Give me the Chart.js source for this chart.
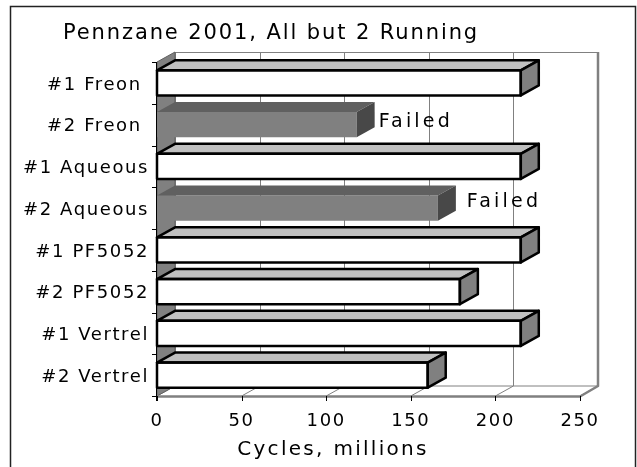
<!DOCTYPE html>
<html>
<head>
<meta charset="utf-8">
<script src="https://cdn.jsdelivr.net/npm/chart.js@4.4.1/dist/chart.umd.min.js"></script>
<style>
  html, body { margin: 0; padding: 0; background: #fff; }
  #wrap { width: 637px; height: 467px; }
</style>
</head>
<body>
<div id="wrap"><canvas id="chart" width="637" height="467"></canvas></div>
<script>
// ── DATA ─────────────────────────────────────────────────────────────────────
const categories = ['#1 Freon ', '#2 Freon ', '#1 Aqueous', '#2 Aqueous',
                    '#1 PF5052', '#2 PF5052', '#1 Vertrel', '#2 Vertrel'];
const cycles     = [215, 118, 215, 166, 215, 179, 215, 160];   // millions
const status     = ['Running', 'Failed', 'Running', 'Failed',
                    'Running', 'Running', 'Running', 'Running'];
const xTicks     = [0, 50, 100, 150, 200, 250];
const titleText  = 'Pennzane 2001, All but 2 Running';
const axisTitle  = 'Cycles, millions';

// ── STYLE ────────────────────────────────────────────────────────────────────
const DX = 18, DY = -10;          // depth offset of the fake 3D box
const FONT = '"DejaVu Sans", Verdana, sans-serif';
const faces = {
  Running: { front: '#ffffff', top: '#c0c0c0', side: '#808080', edge: '#000000' },
  Failed:  { front: '#808080', top: '#606060', side: '#484848', edge: null },
};
// nudges for the "Failed" notes, relative to the bar's back corner
const noteShift = [{ dx: 4, dy: 2.5 }, { dx: 11, dy: -1 }];

function seg(c, x1, y1, x2, y2) {
  c.beginPath(); c.moveTo(x1, y1); c.lineTo(x2, y2); c.stroke();
}
function poly(c, pts, fill, stroke, lw) {
  c.beginPath();
  pts.forEach(([px, py], i) => i ? c.lineTo(px, py) : c.moveTo(px, py));
  c.closePath();
  if (fill) { c.fillStyle = fill; c.fill(); }
  if (stroke) { c.strokeStyle = stroke; c.lineWidth = lw || 1; c.lineJoin = 'round'; c.stroke(); }
}

// ── 3D BOX + BAR FACES ───────────────────────────────────────────────────────
const pseudo3d = {
  id: 'pseudo3d',
  beforeDraw(chart) {
    const c = chart.ctx;
    c.save();
    c.fillStyle = '#fff';
    c.fillRect(0, 0, chart.width, chart.height);
    c.strokeStyle = '#222';
    c.lineWidth = 1.5;
    c.strokeRect(10.5, 6.5, 625, 475);
    c.restore();
    c.letterSpacing = '1.6px';   // Verdana-ish wide look for the tick labels
  },
  beforeDatasetsDraw(chart) {
    const { ctx: c, chartArea: a, scales: { x, y } } = chart;
    c.save();
    // back wall
    c.fillStyle = '#fff';
    c.fillRect(a.left + DX, a.top + DY, a.right - a.left, a.bottom - a.top);
    c.strokeStyle = '#808080';
    c.lineWidth = 1;
    xTicks.forEach(v => {
      const px = Math.round(x.getPixelForValue(v)) + 0.5;
      seg(c, px + DX, a.top + DY, px + DX, a.bottom + DY);
    });
    seg(c, a.left + DX, a.top + DY + 0.5, a.right + DX, a.top + DY + 0.5);
    // floor
    poly(c, [[a.left, a.bottom], [a.right, a.bottom], [a.right + DX, a.bottom + DY],
             [a.left + DX, a.bottom + DY]], '#fff', null);
    c.strokeStyle = '#808080';
    c.lineWidth = 1;
    xTicks.forEach(v => {
      const px = x.getPixelForValue(v);
      seg(c, px, a.bottom, px + DX, a.bottom + DY);
    });
    seg(c, a.left + DX, a.bottom + DY, a.right + DX, a.bottom + DY);
    // side wall
    poly(c, [[a.left, a.top], [a.left + DX, a.top + DY], [a.left + DX, a.bottom + DY],
             [a.left, a.bottom]], '#808080', '#606060', 1);
    // outer edges of the box
    c.strokeStyle = '#808080';
    c.lineWidth = 2.5;
    c.beginPath();
    c.moveTo(a.left, a.bottom + 0.5);
    c.lineTo(a.right, a.bottom + 0.5);
    c.lineTo(a.right + DX, a.bottom + DY);
    c.lineTo(a.right + DX, a.top + DY);
    c.stroke();
    // value axis ticks under the floor
    c.strokeStyle = '#000';
    c.lineWidth = 1;
    xTicks.forEach(v => {
      const px = Math.round(x.getPixelForValue(v)) + 0.5;
      seg(c, px, a.bottom, px, a.bottom + 5);
    });
    // category axis line and ticks
    seg(c, a.left - 0.5, a.top, a.left - 0.5, a.bottom + 5);
    for (let i = 0; i <= categories.length; i++) {
      const py = Math.round(y.getPixelForValue(i - 0.5)) + 0.5;
      seg(c, a.left - 5, py, a.left, py);
    }
    c.restore();
  },
  afterDatasetsDraw(chart) {
    const c = chart.ctx;
    const meta = chart.getDatasetMeta(0);
    c.save();
    let n = 0;
    meta.data.forEach((el, i) => {
      const p = el.getProps(['x', 'y', 'base', 'height'], true);
      const f = faces[status[i]];
      const t = p.y - p.height / 2, b = p.y + p.height / 2;
      const l = p.base, r = p.x;
      poly(c, [[l, t], [l + DX, t + DY], [r + DX, t + DY], [r, t]], f.top, f.edge, 2.5);
      poly(c, [[r, t], [r + DX, t + DY], [r + DX, b + DY], [r, b]], f.side, f.edge, 2.5);
      if (f.edge) {
        c.strokeStyle = f.edge;
        c.lineWidth = 2.5;
        c.strokeRect(l, t, r - l, b - t);
      }
      if (status[i] === 'Failed') {
        const s = noteShift[n++] || { dx: 6, dy: 0 };
        c.font = '19px ' + FONT;
        c.letterSpacing = '3.2px';
        c.fillStyle = '#000';
        c.textAlign = 'left';
        c.textBaseline = 'alphabetic';
        c.fillText(status[i], r + DX + s.dx, p.y + s.dy);
      }
    });
    c.restore();
  },
  afterDraw(chart) {
    const c = chart.ctx;
    c.save();
    c.fillStyle = '#000';
    c.textAlign = 'center';
    c.textBaseline = 'alphabetic';
    c.font = '21px ' + FONT;
    c.letterSpacing = '1.9px';
    c.fillText(titleText, 271, 39);
    c.font = '20px ' + FONT;
    c.letterSpacing = '2.3px';
    c.fillText(axisTitle, 333, 455);
    c.restore();
  }
};

new Chart(document.getElementById('chart'), {
  type: 'bar',
  data: {
    labels: categories,
    datasets: [{
      data: cycles,
      backgroundColor: status.map(s => faces[s].front),
      borderWidth: 0,
      barPercentage: 0.6,
      categoryPercentage: 1.0,
    }]
  },
  options: {
    indexAxis: 'y',
    responsive: false,
    animation: false,
    events: [],
    layout: { padding: { top: 62, right: 57, left: 0, bottom: 0 } },
    scales: {
      x: {
        min: xTicks[0],
        max: xTicks[xTicks.length - 1],
        afterBuildTicks: s => { s.ticks = xTicks.map(v => ({ value: v })); },
        afterFit: s => { s.height = 71; },
        grid: { display: false, drawTicks: false },
        border: { display: false },
        ticks: {
          color: '#000', font: { family: FONT, size: 18 },
          padding: 15, maxRotation: 0, autoSkip: false,
        },
      },
      y: {
        afterFit: s => { s.width = 157; },
        grid: { display: false, drawTicks: false },
        border: { display: false },
        ticks: {
          color: '#000', font: { family: FONT, size: 18 },
          padding: 8, autoSkip: false, labelOffset: 2,
        },
      },
    },
    plugins: {
      legend: { display: false },
      title: { display: false },
      tooltip: { enabled: false },
    },
  },
  plugins: [pseudo3d],
});
</script>
</body>
</html>
